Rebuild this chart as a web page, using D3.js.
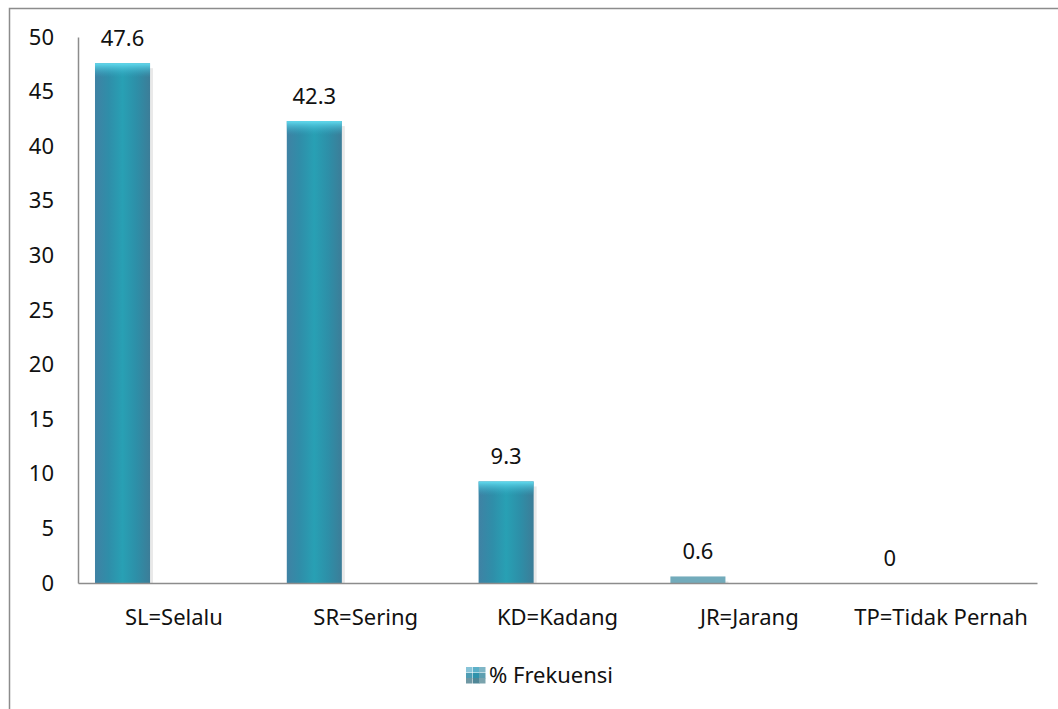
<!DOCTYPE html>
<html>
<head>
<meta charset="utf-8">
<script src="https://cdn.jsdelivr.net/npm/d3@7"></script>
<style>
  html, body { margin: 0; padding: 0; background: #fff; }
  svg { display: block; font-family: "Noto Sans", sans-serif; }
</style>
</head>
<body>
<svg id="chart" width="1058" height="709"></svg>
<script>
// data
const categories = ['SL=Selalu', 'SR=Sering', 'KD=Kadang', 'JR=Jarang', 'TP=Tidak Pernah'];
const values = [47.6, 42.3, 9.3, 0.6, 0];
const yTicks = [0, 5, 10, 15, 20, 25, 30, 35, 40, 45, 50];
const seriesName = '% Frekuensi';

const width = 1058;
const height = 709;
const plotLeft = 78, plotRight = 1037, plotTop = 37, plotBottom = 583;

const svg = d3.select('#chart');

// frame (only top and left edges show in the picture)
svg.append('path')
  .attr('d', `M9.5,${height} V8.5 H${width}`)
  .attr('fill', 'none')
  .attr('stroke', '#8c8c8c')
  .attr('stroke-width', 1.5);

// gradients for the glassy bars
const defs = svg.append('defs');
const grad = defs.append('linearGradient').attr('id', 'barGrad')
  .attr('x1', 0).attr('x2', 1).attr('y1', 0).attr('y2', 0);
[[0, '#3f82a4'], [0.25, '#2f8ea9'], [0.5, '#28a0b4'], [0.75, '#2d8fa8'], [1, '#3c7d98']]
  .forEach(([o, c]) => grad.append('stop').attr('offset', o).attr('stop-color', c));
const capGrad = defs.append('linearGradient').attr('id', 'capGrad')
  .attr('x1', 0).attr('x2', 0).attr('y1', 0).attr('y2', 1);
[[0, '#62dbef', 1], [1, '#33a9c4', 0]]
  .forEach(([o, c, a]) => capGrad.append('stop').attr('offset', o)
    .attr('stop-color', c).attr('stop-opacity', a));

// scales
const x = d3.scaleBand().domain(categories).range([plotLeft, plotRight]).padding(0);
const y = d3.scaleLinear().domain([0, 50]).range([plotBottom, plotTop]);

const barOffset = x.bandwidth() * 0.0886;
const barWidth = x.bandwidth() * 0.287;

// bars
const bars = svg.append('g');
const data = categories.map((c, i) => ({ cat: c, value: values[i] }));

bars.selectAll('rect.shadow')
  .data(data.filter(d => d.value > 0))
  .join('rect')
  .attr('class', 'shadow')
  .attr('x', d => x(d.cat) + barOffset + 3)
  .attr('y', d => y(d.value) + 5)
  .attr('width', barWidth)
  .attr('height', d => y(0) - y(d.value) - 5)
  .attr('fill', '#e9e9e9');

bars.selectAll('rect.bar')
  .data(data.filter(d => d.value > 0))
  .join('rect')
  .attr('class', 'bar')
  .attr('x', d => x(d.cat) + barOffset)
  .attr('y', d => y(d.value))
  .attr('width', barWidth)
  .attr('height', d => y(0) - y(d.value))
  .attr('fill', d => d.value < 2 ? '#72abbb' : 'url(#barGrad)');

bars.selectAll('rect.cap')
  .data(data.filter(d => d.value > 2))
  .join('rect')
  .attr('class', 'cap')
  .attr('x', d => x(d.cat) + barOffset)
  .attr('y', d => y(d.value))
  .attr('width', barWidth)
  .attr('height', 14)
  .attr('fill', 'url(#capGrad)');

// value labels
svg.append('g').selectAll('text')
  .data(data)
  .join('text')
  .attr('x', d => x(d.cat) + barOffset + barWidth / 2)
  .attr('y', d => y(d.value) - 25)
  .attr('dy', '0.35em')
  .attr('text-anchor', 'middle')
  .attr('font-size', 22)
  .attr('fill', '#111')
  .text(d => d.value);

// axes
const yAxis = d3.axisLeft(y).tickValues(yTicks).tickSize(0).tickPadding(24);
const gy = svg.append('g').attr('transform', `translate(${plotLeft},0)`).call(yAxis);
gy.select('.domain').attr('stroke', '#8c8c8c').attr('stroke-width', 1.5);
gy.selectAll('text').attr('font-size', 22).attr('fill', '#111')
  .attr('font-family', '"Noto Sans", sans-serif');

const xAxis = d3.axisBottom(x).tickSize(0).tickPadding(26);
const gx = svg.append('g').attr('transform', `translate(0,${plotBottom})`).call(xAxis);
gx.select('.domain').attr('stroke', '#8c8c8c').attr('stroke-width', 1.5);
gx.selectAll('text').attr('font-size', 22).attr('fill', '#111')
  .attr('font-family', '"Noto Sans", sans-serif');

// legend
const legend = svg.append('g').attr('transform', 'translate(466,667)');
const sw = legend.append('g');
[['#88c4d8', 0, 0], ['#5cb0c8', 7, 0], ['#7fb6c6', 13, 0],
 ['#4f9db4', 0, 6], ['#2f92ab', 7, 6], ['#5e9fb0', 13, 6],
 ['#6f98a4', 0, 11], ['#4f8797', 7, 11], ['#7aa3ad', 13, 11]]
  .forEach(([c, dx, dy]) => sw.append('rect')
    .attr('x', dx).attr('y', dy).attr('width', 6.5).attr('height', 5.5).attr('fill', c));
legend.append('text')
  .attr('x', 23)
  .attr('y', 8)
  .attr('dy', '0.35em')
  .attr('font-size', 22)
  .attr('fill', '#111')
  .text(seriesName);
</script>
</body>
</html>
